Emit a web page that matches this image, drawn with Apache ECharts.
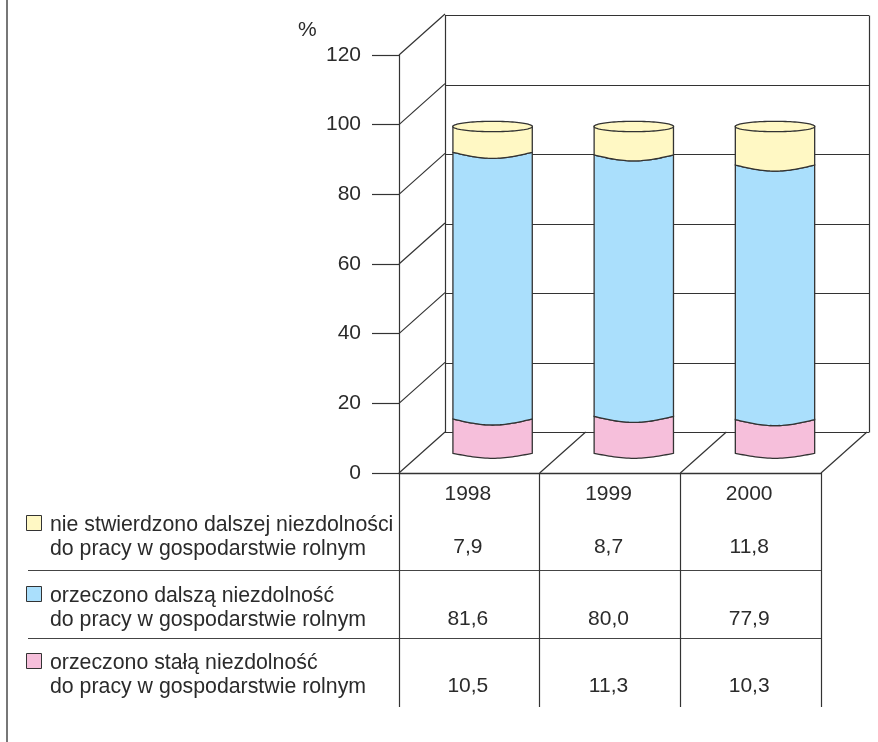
<!DOCTYPE html>
<html>
<head>
<meta charset="utf-8">
<title>Orzeczenia o niezdolności do pracy w gospodarstwie rolnym</title>
<script src="https://cdn.jsdelivr.net/npm/echarts@6/dist/echarts.min.js"></script>
<style>html,body{margin:0;padding:0;background:#fff}#chart{width:878px;height:742px}</style>
</head>
<body>
<div id="chart"></div>
<script>
const years = ['1998', '1999', '2000'];
const stalaValues = [10.5, 11.3, 10.3];
const dalszaValues = [81.6, 80.0, 77.9];
const brakValues = [7.9, 8.7, 11.8];
const yTicks = [0, 20, 40, 60, 80, 100, 120];
const legendTexts = [
  'nie stwierdzono dalszej niezdolności\ndo pracy w gospodarstwie rolnym',
  'orzeczono dalszą niezdolność\ndo pracy w gospodarstwie rolnym',
  'orzeczono stałą niezdolność\ndo pracy w gospodarstwie rolnym'
];
const seriesColors = ['#FFF8C4', '#AADFFC', '#F6BFDB'];

const INK = '#333333';
const TEXT_INK = '#2b2b2b';
const FONT = '"Liberation Sans", Arial, sans-serif';
const TEXT_FONT = '21px ' + FONT;
const LEGEND_FONT = '21.3px ' + FONT;
const DEPTH_X = 46;
const DEPTH_Y = 41;
const CURVE = 6;
const rowValueY = [547, 619, 686];
const rowLegendY = [512, 583, 650];
const swatchY = [515.5, 586.5, 653.5];
const separatorY = [570.5, 638.5];

// Cumulative bottoms and tops of each stacked cylinder segment.
function segments(values, bases) {
  return values.map((v, i) => [i, bases[i], bases[i] + v]);
}
const stalaSeg = segments(stalaValues, [0, 0, 0]);
const dalszaSeg = segments(dalszaValues, stalaValues);
const brakSeg = segments(brakValues, stalaValues.map((v, i) => v + dalszaValues[i]));

// Sagging edge of a cylinder between its left and right side.
function arc(x0, x1, y, dip, reverse) {
  const pts = [];
  for (let k = 0; k <= 32; k++) {
    const t = k / 32;
    pts.push([x0 + (x1 - x0) * t, y + dip * Math.sin(Math.PI * t)]);
  }
  return reverse ? pts.reverse() : pts;
}

// Half of the elliptical rim on the top of a cylinder.
function rim(x0, x1, y, ry, reverse) {
  const pts = [];
  for (let k = 0; k <= 48; k++) {
    const a = Math.PI * k / 48;
    pts.push([(x0 + x1) / 2 - Math.cos(a) * (x1 - x0) / 2, y + ry * Math.sin(a)]);
  }
  return reverse ? pts.reverse() : pts;
}

function cylinderItem(color, capped) {
  return function (params, api) {
    const i = api.value(0);
    const cx = api.coord([i, 0])[0];
    const half = api.size([1, 0])[0] * 0.281;
    const yBottom = api.coord([i, api.value(1)])[1];
    const yTop = api.coord([i, api.value(2)])[1];
    const x0 = cx - half, x1 = cx + half;
    const style = { fill: color, stroke: INK, lineWidth: 1.3 };
    const bottomDip = api.value(1) === 0 ? 5 : CURVE;
    const body = {
      type: 'polygon',
      shape: { points: arc(x0, x1, yBottom, bottomDip).concat(arc(x0, x1, yTop, capped ? 0 : CURVE, true)) },
      style: style
    };
    if (!capped) return body;
    return {
      type: 'group',
      children: [body, {
        type: 'polygon',
        shape: { points: rim(x0, x1, yTop, 5.2).concat(rim(x0, x1, yTop, -5.2, true)) },
        style: style
      }]
    };
  };
}

function diagonal(x, y) {
  return {
    type: 'line',
    shape: { x1: x, y1: y, x2: x + DEPTH_X, y2: y - DEPTH_Y },
    style: { stroke: INK, lineWidth: 1.2 }
  };
}

function tableRow(name, values, rowY) {
  return {
    type: 'custom', name: name, xAxisIndex: 0, yAxisIndex: 0, silent: true,
    data: values.map((v, i) => [i, v]),
    renderItem: (params, api) => ({
      type: 'text',
      style: {
        text: api.value(1).toFixed(1).replace('.', ','),
        x: api.coord([api.value(0), 0])[0] - 1.5, y: rowY,
        textAlign: 'center', textVerticalAlign: 'middle',
        font: TEXT_FONT, fill: TEXT_INK
      }
    })
  };
}

const staticGraphics = [
  { type: 'line', shape: { x1: 7, y1: 0, x2: 7, y2: 742 }, style: { stroke: '#555', lineWidth: 1.6 } }
];
separatorY.forEach(y => staticGraphics.push({
  type: 'line', shape: { x1: 28, y1: y, x2: 821, y2: y }, style: { stroke: '#444', lineWidth: 1.1 }
}));
legendTexts.forEach((t, i) => {
  staticGraphics.push({
    type: 'rect', shape: { x: 26.5, y: swatchY[i], width: 15, height: 15 },
    style: { fill: seriesColors[i], stroke: INK, lineWidth: 1 }
  });
  staticGraphics.push({
    type: 'text', x: 50, y: rowLegendY[i] + 1,
    style: { text: t, font: LEGEND_FONT, lineHeight: 24, fill: TEXT_INK }
  });
});

const chart = echarts.init(document.getElementById('chart'), null, { renderer: 'canvas' });
chart.setOption({
  animation: false,
  backgroundColor: '#ffffff',
  title: { text: '%', left: 298, top: 20, padding: 0, textStyle: { fontFamily: FONT, fontSize: 21, fontWeight: 'normal', color: TEXT_INK } },
  graphic: staticGraphics,
  grid: [
    { left: 399, top: 55, width: 422, height: 418 },
    { left: 422, top: 126.5, width: 423.6, height: 326.8 },
    { left: 445, top: 15.5, width: 424, height: 417 }
  ],
  xAxis: [
    {
      type: 'category', gridIndex: 0, data: years,
      axisLine: { lineStyle: { color: INK, width: 1.3 } },
      axisTick: { show: true, alignWithLabel: false, length: 234, lineStyle: { color: INK, width: 1.2 } },
      axisLabel: { margin: 11, padding: [0, 3, 0, 0], fontFamily: FONT, fontSize: 21, color: TEXT_INK }
    },
    { type: 'category', gridIndex: 1, data: years, show: false },
    {
      type: 'value', gridIndex: 2, min: 0, max: 1, interval: 1,
      axisLine: { show: false }, axisTick: { show: false }, axisLabel: { show: false },
      splitLine: { show: true, lineStyle: { color: INK, width: 1.2 } }
    }
  ],
  yAxis: [
    {
      type: 'value', gridIndex: 0, min: 0, max: 120, interval: 20,
      axisLine: { show: true, lineStyle: { color: INK, width: 1.2 } },
      axisTick: { show: true, length: 27, lineStyle: { color: INK, width: 1.2 } },
      axisLabel: { margin: 38, fontFamily: FONT, fontSize: 21, color: TEXT_INK },
      splitLine: { show: false }
    },
    { type: 'value', gridIndex: 1, min: 0, max: 100, show: false, splitLine: { show: false } },
    {
      type: 'value', gridIndex: 2, min: 0, max: 120, interval: 20,
      axisLine: { show: false }, axisTick: { show: false }, axisLabel: { show: false },
      splitLine: { show: true, lineStyle: { color: INK, width: 1.2 } }
    }
  ],
  series: [
    {
      // Left wall and floor edges running towards the back of the box.
      type: 'custom', name: 'sciana', xAxisIndex: 0, yAxisIndex: 0, silent: true, z: 1,
      data: yTicks.map(v => [0, v]),
      renderItem: (params, api) => {
        const band = api.size([1, 0])[0];
        return diagonal(api.coord([0, 0])[0] - band / 2, api.coord([0, api.value(1)])[1]);
      }
    },
    {
      type: 'custom', name: 'podloga', xAxisIndex: 0, yAxisIndex: 0, silent: true, z: 1,
      data: [[1, 0], [2, 0], [3, 0]],
      renderItem: (params, api) => {
        const band = api.size([1, 0])[0];
        return diagonal(api.coord([0, 0])[0] + band * (api.value(0) - 0.5), api.coord([0, 0])[1]);
      }
    },
    { type: 'custom', name: 'orzeczono stałą niezdolność', xAxisIndex: 1, yAxisIndex: 1, z: 3, silent: true, data: stalaSeg, renderItem: cylinderItem(seriesColors[2], false) },
    { type: 'custom', name: 'orzeczono dalszą niezdolność', xAxisIndex: 1, yAxisIndex: 1, z: 3, silent: true, data: dalszaSeg, renderItem: cylinderItem(seriesColors[1], false) },
    { type: 'custom', name: 'nie stwierdzono dalszej niezdolności', xAxisIndex: 1, yAxisIndex: 1, z: 3, silent: true, data: brakSeg, renderItem: cylinderItem(seriesColors[0], true) },
    tableRow('tabela nie stwierdzono', brakValues, rowValueY[0]),
    tableRow('tabela dalsza', dalszaValues, rowValueY[1]),
    tableRow('tabela stała', stalaValues, rowValueY[2])
  ]
});
</script>
</body>
</html>
